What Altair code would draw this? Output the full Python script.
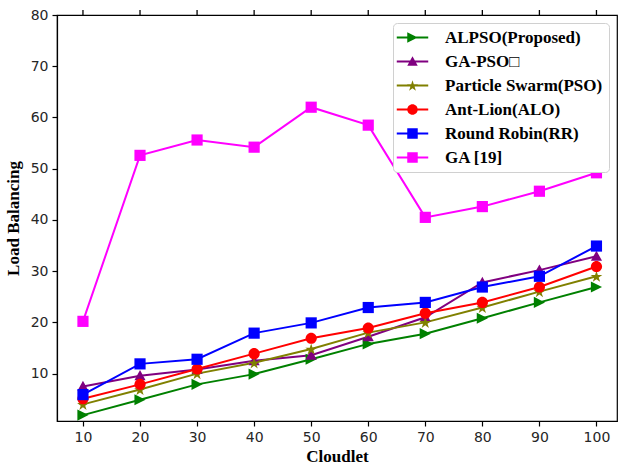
import math
import altair as alt
import pandas as pd

cloudlets = [10, 20, 30, 40, 50, 60, 70, 80, 90, 100]
series_names = ["ALPSO(Proposed)", "GA-PSO\u25a1", "Particle Swarm(PSO)",
                "Ant-Lion(ALO)", "Round Robin(RR)", "GA [19]"]
alpso = [1.9, 4.9, 7.9, 9.9, 12.8, 15.8, 17.8, 20.8, 23.9, 26.9]
gapso = [7.5, 9.6, 10.8, 12.5, 13.6, 17.2, 21.0, 27.8, 30.2, 32.9]
pso = [4.0, 6.9, 10.0, 12.1, 14.8, 18.0, 20.0, 22.9, 26.0, 29.0]
alo = [5.1, 7.9, 10.9, 13.9, 16.9, 18.9, 21.8, 23.9, 26.9, 30.9]
rr = [5.9, 11.9, 12.8, 17.9, 19.9, 22.9, 23.9, 26.9, 29.0, 34.9]
ga = [20.2, 52.6, 55.6, 54.2, 62.0, 58.5, 40.5, 42.6, 45.6, 49.2]
series_values = [alpso, gapso, pso, alo, rr, ga]
colors = ["#008000", "#800080", "#808000", "#ff0000", "#0000ff", "#ff00ff"]
y_ticks = [10, 20, 30, 40, 50, 60, 70, 80]

rows = []
for name, vals in zip(series_names, series_values):
    for c, v in zip(cloudlets, vals):
        rows.append({"Cloudlet": c, "Algorithm": name, "Value": v})
df = pd.DataFrame(rows)

# marker paths in unit coordinates ([-1, 1])
def star_path(scale=1.0):
    pts = []
    for k in range(10):
        ang = math.radians(-90 + 36 * k)
        r = scale if k % 2 == 0 else scale * 0.382
        pts.append((r * math.cos(ang), r * math.sin(ang) + 0.1 * scale))
    return "M" + "L".join(f"{x:.3f},{y:.3f}" for x, y in pts) + "Z"

tri_right = "M-1,-1L1,0L-1,1Z"
tri_up = "M0,-1L1,0.8L-1,0.8Z"
circle = "M1,0A1,1 0 1,1 -1,0A1,1 0 1,1 1,0Z"
square = "M-1,-1L1,-1L1,1L-1,1Z"
plot_shapes = [tri_right, tri_up, star_path(1.1), circle, square, square]

line_seg = "M-3,-0.17L3,-0.17L3,0.17L-3,0.17Z"
legend_shapes = [line_seg + p for p in plot_shapes]

x_scale = alt.Scale(domain=[5.45, 103.6], nice=False, zero=False)
y_scale = alt.Scale(domain=[0.75, 80], nice=False, zero=False)
color_scale = alt.Scale(domain=series_names, range=colors)

x_axis = alt.Axis(values=cloudlets, title="Cloudlet", titlePadding=4, orient="bottom")
y_axis = alt.Axis(values=y_ticks, title="Load Balancing", titlePadding=8, orient="left")

base = alt.Chart(df)

lines = base.mark_line(strokeWidth=2).encode(
    x=alt.X("Cloudlet:Q", scale=x_scale, axis=x_axis),
    y=alt.Y("Value:Q", scale=y_scale, axis=y_axis),
    color=alt.Color("Algorithm:N", scale=color_scale, legend=None),
    detail="Algorithm:N",
)

points = base.mark_point(filled=True, opacity=1, size=125).encode(
    x=alt.X("Cloudlet:Q", scale=x_scale, axis=x_axis),
    y=alt.Y("Value:Q", scale=y_scale, axis=y_axis),
    color=alt.Color("Algorithm:N", scale=color_scale, legend=None),
    shape=alt.Shape("Algorithm:N",
                    scale=alt.Scale(domain=series_names, range=plot_shapes),
                    legend=None),
)

# outward tick marks along the top frame (matplotlib-style secondary ticks)
top_ticks = base.transform_filter(
    alt.datum.Algorithm == series_names[0]
).mark_rule(color="black", strokeWidth=1.3).encode(
    x=alt.X("Cloudlet:Q", scale=x_scale, axis=x_axis),
    y=alt.value(-5),
    y2=alt.value(0.6),
)

legend_layer = base.transform_filter("false").mark_point(
    filled=True, opacity=1, size=110).encode(
    color=alt.Color("Algorithm:N", scale=color_scale, legend=alt.Legend(title=None)),
    shape=alt.Shape("Algorithm:N",
                    scale=alt.Scale(domain=series_names, range=legend_shapes),
                    legend=alt.Legend(title=None)),
)

chart = alt.layer(lines, points, legend_layer, top_ticks).resolve_scale(
    color="independent", shape="independent"
).properties(
    width=560, height=406,
    autosize=alt.AutoSizeParams(type="none"),
    padding={"left": 57, "top": 15, "right": 5, "bottom": 44},
).configure_view(
    stroke="black", strokeWidth=1.2
).configure_axis(
    labelFont="DejaVu Sans", labelFontSize=14, labelColor="#262626",
    tickColor="black", domainColor="black", tickSize=5, tickWidth=1.2,
    domainWidth=1.2, grid=False, labelPadding=4,
    titleFont="Liberation Serif", titleFontWeight="bold", titleFontSize=17,
    titleColor="black",
).configure_legend(
    orient="none", legendX=336, legendY=8,
    labelFont="Liberation Serif", labelFontWeight="bold", labelFontSize=17,
    labelColor="black", symbolSize=110, symbolStrokeWidth=0,
    symbolOffset=5, labelOffset=24, rowPadding=6,
    strokeColor="#d0d0d0", fillColor="white", cornerRadius=4, padding=6,
    labelLimit=300,
)

chart.save("out.html", embed_options={"renderer": "svg", "actions": False})
